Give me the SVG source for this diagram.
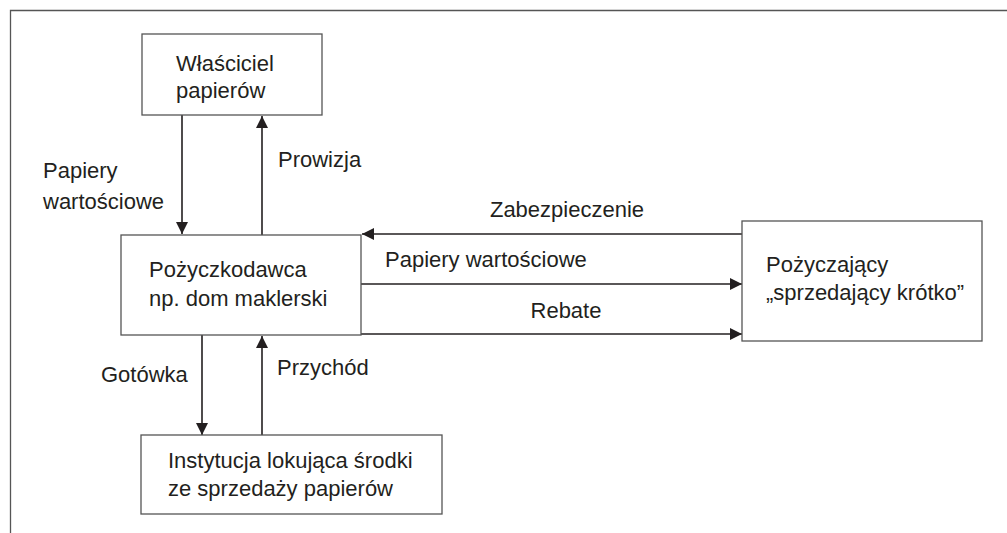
<svg xmlns="http://www.w3.org/2000/svg" width="1007" height="533" viewBox="0 0 1007 533">
<style>
.box{fill:#fff;stroke:#555;stroke-width:1.3}
.frame{fill:none;stroke:#555;stroke-width:1.3}
.ln{fill:none;stroke:#231f20;stroke-width:1.6}
text{font-family:"Liberation Sans",Arial,sans-serif;font-size:22px;fill:#231f20}
</style>
<defs>
<marker id="ah" viewBox="0 0 12 12" refX="12" refY="6" markerWidth="12" markerHeight="12" markerUnits="userSpaceOnUse" orient="auto">
<path d="M0,0 L12,6 L0,12 Z" fill="#231f20"/>
</marker>
</defs>
<rect width="1007" height="533" fill="#fff"/>
<path class="frame" d="M1007,10.5 H10.5 V533"/>
<g id="connectors">
<line class="ln" x1="182" y1="115" x2="182" y2="234" marker-end="url(#ah)"/>
<line class="ln" x1="262" y1="235" x2="262" y2="116" marker-end="url(#ah)"/>
<line class="ln" x1="742" y1="234" x2="362" y2="234" marker-end="url(#ah)"/>
<line class="ln" x1="361" y1="284" x2="742" y2="284" marker-end="url(#ah)"/>
<line class="ln" x1="361" y1="334" x2="742" y2="334" marker-end="url(#ah)"/>
<line class="ln" x1="202" y1="335" x2="202" y2="435" marker-end="url(#ah)"/>
<line class="ln" x1="262" y1="435" x2="262" y2="336" marker-end="url(#ah)"/>
<text x="43" y="178">Papiery</text>
<text x="43" y="209">wartościowe</text>
<text x="278" y="167">Prowizja</text>
<text x="567" y="217" text-anchor="middle">Zabezpieczenie</text>
<text x="385" y="267">Papiery wartościowe</text>
<text x="566" y="318" text-anchor="middle">Rebate</text>
<text x="101" y="382">Gotówka</text>
<text x="277" y="375">Przychód</text>
</g>
<g id="owner">
<rect class="box" x="142" y="34" width="180" height="81"/>
<text x="176" y="71">Właściciel</text>
<text x="176" y="98">papierów</text>
</g>
<g id="lender">
<rect class="box" x="121" y="235" width="240" height="100"/>
<text x="149" y="277">Pożyczkodawca</text>
<text x="149" y="306">np. dom maklerski</text>
</g>
<g id="borrower">
<rect class="box" x="742" y="221" width="240" height="120"/>
<text x="766" y="272">Pożyczający</text>
<text x="766" y="300">„sprzedający krótko”</text>
</g>
<g id="institution">
<rect class="box" x="141" y="435" width="301" height="79"/>
<text x="168" y="468">Instytucja lokująca środki</text>
<text x="168" y="496">ze sprzedaży papierów</text>
</g>
</svg>
